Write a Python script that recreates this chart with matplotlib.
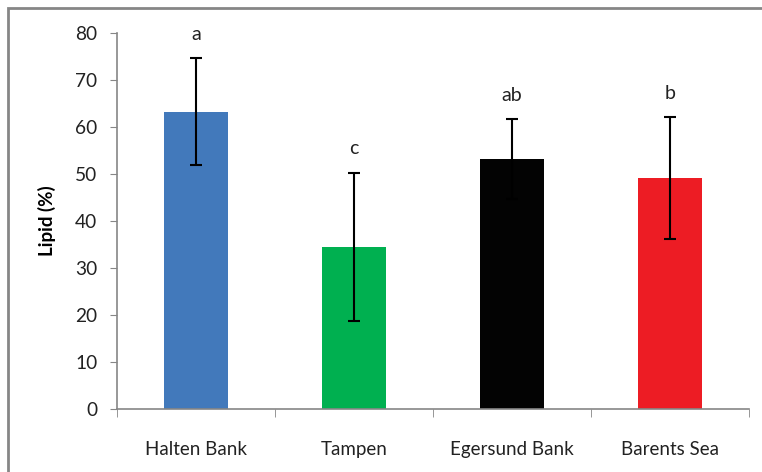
import matplotlib.pyplot as plt
from matplotlib.patches import Rectangle

plt.rcParams['font.family'] = ['Lato', 'DejaVu Sans']

# 各海域的脂肪含量均值与标准差
sites = ['Halten Bank', 'Tampen', 'Egersund Bank', 'Barents Sea']
lipid = [63.3, 34.5, 53.2, 49.1]
sd = [11.3, 15.8, 8.5, 13.0]
groups = ['a', 'c', 'ab', 'b']
colors = ['#4279BB', '#00B050', '#030303', '#ED1C24']

fig = plt.figure(figsize=(7.62, 4.72), dpi=100)
ax = fig.add_axes([0.1535, 0.1335, 0.8295, 0.7965])

x = range(len(sites))
ax.bar(x, lipid, width=0.4, color=colors, zorder=2)
ax.errorbar(x, lipid, yerr=sd, fmt='none', ecolor='black',
            elinewidth=1.5, capsize=4, capthick=1.5, zorder=3)

# 显著性字母
for i in x:
    ax.text(i, lipid[i] + sd[i] + 3.3, groups[i], ha='center', va='bottom',
            fontsize=14, color='#222222')

ax.set_xlim(-0.5, 3.5)
ax.set_ylim(0, 80)
ax.set_yticks(range(0, 81, 10))
ax.set_xticks(list(x))
ax.set_xticklabels(sites, fontsize=13.5, color='#222222')
ax.set_xticks([-0.5, 0.5, 1.5, 2.5, 3.5], minor=True)
ax.tick_params(axis='x', which='major', length=0, pad=23)
ax.tick_params(axis='x', which='minor', length=6, color='#868686', direction='out')
ax.tick_params(axis='y', length=5, color='#868686', labelsize=13.8,
               labelcolor='#222222', pad=9)

for s in ['top', 'right']:
    ax.spines[s].set_visible(False)
for s in ['left', 'bottom']:
    ax.spines[s].set_color('#868686')
    ax.spines[s].set_linewidth(1.2)

ax.set_ylabel('Lipid (%)', fontsize=13.5, fontweight='bold', labelpad=14)

# 外边框
fig.patches.append(Rectangle((0.0105, -0.05), 1.1, 1.033, transform=fig.transFigure,
                             fill=False, edgecolor='#868686', linewidth=2))

plt.savefig('out.png', dpi=100)
